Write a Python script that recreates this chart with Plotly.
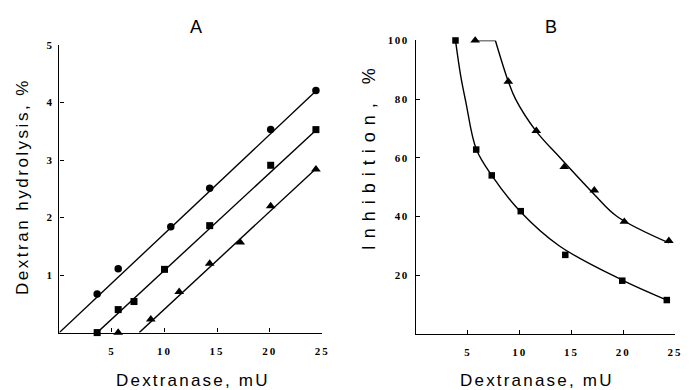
import plotly.graph_objects as go

W, H = 691, 390

# ---------- Panel A data ----------
A_circ_x = [3.6, 5.6, 10.6, 14.3, 20.1, 24.4]
A_circ_y = [0.67, 1.11, 1.84, 2.51, 3.53, 4.21]
A_sq_x = [3.6, 5.6, 7.1, 10.0, 14.3, 20.1, 24.4]
A_sq_y = [0.0, 0.40, 0.54, 1.10, 1.86, 2.91, 3.53]
A_tri_x = [5.6, 8.7, 11.4, 14.3, 17.2, 20.1, 24.4]
A_tri_y = [0.0, 0.23, 0.71, 1.20, 1.57, 2.20, 2.84]
# fitted lines
A_circ_fit_x = [0.0, 24.4]
A_circ_fit_y = [0.0, 4.20]
A_sq_fit_x = [3.6, 24.4]
A_sq_fit_y = [0.0, 3.52]
A_tri_fit_x = [7.6, 24.4]
A_tri_fit_y = [0.0, 2.85]

# ---------- Panel B data ----------
B_sq_x = [3.8, 5.8, 7.3, 10.1, 14.4, 19.9, 24.2]
B_sq_y = [100, 62.8, 54, 41.8, 26.9, 18.1, 11.5]
B_tri_x = [5.7, 8.9, 11.6, 14.3, 17.2, 20.1, 24.4]
B_tri_y = [100, 86, 69.2, 56.9, 48.9, 38.2, 31.7]
# fitted curves
B_sq_fit_x = [3.8, 4.3, 4.8, 5.8, 7.3, 10.1, 13.8, 19.9, 24.2]
B_sq_fit_y = [100, 88, 79, 63, 54, 41.5, 30, 18.3, 11.5]
B_tri_flat_x = [5.7, 7.65]
B_tri_flat_y = [100, 100]
B_tri_fit_x = [7.65, 8.9, 9.6, 11.6, 13.9, 17.2, 19.4, 24.4]
B_tri_fit_y = [100, 86, 80, 69, 60, 47.5, 40, 31]

A_yticks = [1, 2, 3, 4, 5]
B_yticks = [20, 40, 60, 80, 100]
x_ticks = [5, 10, 15, 20, 25]

def sp(t, ls=2):
    return f'<span style="letter-spacing:{ls}px">{t}</span>'

fig = go.Figure()
LW = 1.4
blk = "black"

def line(x, y, xa, ya, shape="linear"):
    fig.add_trace(go.Scatter(x=x, y=y, mode="lines", xaxis=xa, yaxis=ya,
                             line=dict(color=blk, width=LW, shape=shape, smoothing=1.0),
                             showlegend=False, hoverinfo="skip", cliponaxis=False))

def pts(x, y, xa, ya, sym, size):
    fig.add_trace(go.Scatter(x=x, y=y, mode="markers", xaxis=xa, yaxis=ya,
                             marker=dict(symbol=sym, size=size, color=blk),
                             showlegend=False, cliponaxis=False))

line(A_circ_fit_x, A_circ_fit_y, "x", "y")
line(A_sq_fit_x, A_sq_fit_y, "x", "y")
line(A_tri_fit_x, A_tri_fit_y, "x", "y")
pts(A_circ_x, A_circ_y, "x", "y", "circle", 7.5)
pts(A_sq_x, A_sq_y, "x", "y", "square", 7)
pts(A_tri_x, A_tri_y, "x", "y", "triangle-up", 8.5)

line(B_sq_fit_x, B_sq_fit_y, "x2", "y2", "spline")
line(B_tri_flat_x, B_tri_flat_y, "x2", "y2")
line(B_tri_fit_x, B_tri_fit_y, "x2", "y2", "spline")
pts(B_sq_x, B_sq_y, "x2", "y2", "square", 6.5)
pts(B_tri_x, B_tri_y, "x2", "y2", "triangle-up", 8.5)

tickfont = dict(family="Liberation Serif", size=11, color=blk)
common_ax = dict(showline=True, linecolor=blk, linewidth=1.4, showgrid=False,
                 zeroline=False, ticks="inside", ticklen=4, tickwidth=1.2,
                 tickcolor=blk, tickfont=tickfont, fixedrange=True)

fig.update_layout(
    width=W, height=H, margin=dict(l=0, r=0, t=0, b=0),
    paper_bgcolor="white", plot_bgcolor="white", showlegend=False,
    xaxis=dict(domain=[60/W, 326/W], range=[0, 25], tickvals=x_ticks,
               ticktext=[sp(f"<b>{v}</b>") for v in x_ticks], anchor="y",
               ticklabelstandoff=8, **common_ax),
    yaxis=dict(domain=[1-331.7/H, 1-39.7/H], range=[0, 5], tickvals=A_yticks,
               ticktext=[f"<b>{v}</b>" for v in A_yticks], anchor="x",
               ticklabelstandoff=4, **common_ax),
    xaxis2=dict(domain=[421/W, 683/W], range=[0, 25], tickvals=x_ticks,
                ticktext=[sp(f"<b>{v}</b>") for v in x_ticks], anchor="y2",
                ticklabelstandoff=8, **common_ax),
    yaxis2=dict(domain=[1-332.9/H, 1-35/H], range=[0, 100], tickvals=B_yticks,
                ticktext=[sp(f"<b>{v}</b>", 1.5) for v in B_yticks], anchor="x2",
                ticklabelstandoff=4, **common_ax),
)

tf = dict(family="Liberation Sans", size=17, color=blk)
ann = [
    dict(text="A", x=198/W, y=1-21/H, font=dict(family="Liberation Sans", size=18, color=blk)),
    dict(text="B", x=557/W, y=1-21/H, font=dict(family="Liberation Sans", size=18, color=blk)),
    dict(text=sp("Dextranase, mU", 2.2), x=195/W, y=1-380/H, font=tf),
    dict(text=sp("Dextranase, mU", 2.2), x=543/W, y=1-380/H, font=tf),
    dict(text=sp("Dextran hydrolysis, %", 2.5), x=22/W, y=1-183/H, textangle=-90, font=tf),
    dict(text=sp("Inhibition, %", 7), x=373/W, y=1-152/H, textangle=-90,
         font=dict(family="Liberation Sans", size=18, color=blk)),
]
for a in ann:
    a.update(xref="paper", yref="paper", showarrow=False, xanchor="center", yanchor="middle")
fig.update_layout(annotations=ann)

fig.write_html("out.html", config={"displayModeBar": False},
               post_script="document.body.style.margin='0';document.body.style.overflow='hidden';")
